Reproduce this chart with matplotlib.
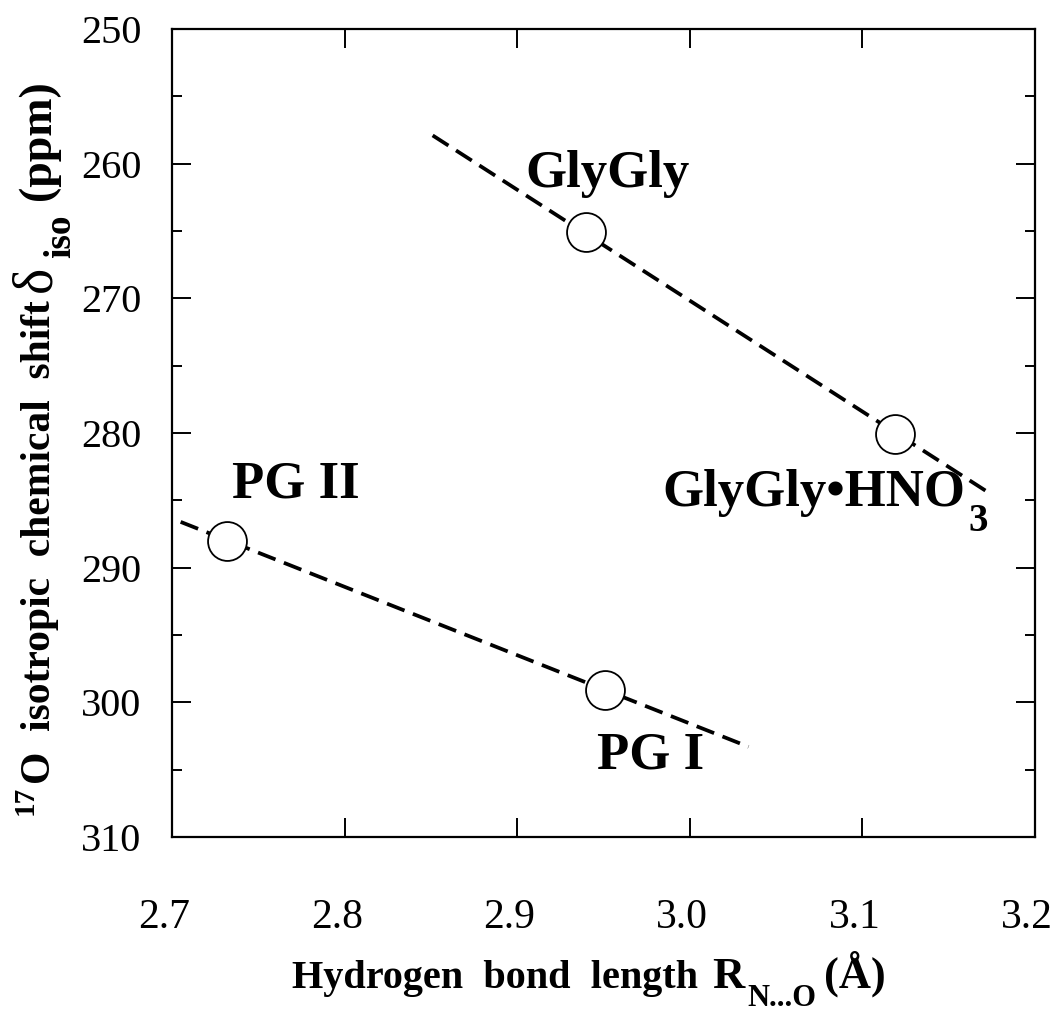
import matplotlib
matplotlib.use('Agg')
import matplotlib.pyplot as plt
from matplotlib.ticker import MultipleLocator
from matplotlib.transforms import IdentityTransform, ScaledTranslation

# measured points: hydrogen bond length (A) vs 17O isotropic shift (ppm)
names = ['GlyGly', 'GlyGly\u2022HNO', 'PG II', 'PG I']
name_sub = ['', '3', '', '']
r_no = [2.940, 3.119, 2.732, 2.951]
shift = [265.1, 280.1, 288.0, 299.1]

# label anchors (left, baseline)
label_x = [2.905, 2.984, 2.7347, 2.9465]
label_y = [261.7, 285.4, 284.8, 304.9]

# dashed guide lines, end points
line1_x = [2.851, 3.174]
line1_y = [257.9, 284.5]
line2_x = [2.705, 3.034]
line2_y = [286.6, 303.3]

xticks = [2.7, 2.8, 2.9, 3.0, 3.1, 3.2]
yticks = [250, 260, 270, 280, 290, 300, 310]

plt.rcParams['font.family'] = ['Liberation Serif', 'DejaVu Serif']

fig = plt.figure(figsize=(10.58, 10.19), dpi=100)
ax = fig.add_axes([0.1626, 0.1786, 0.8157, 0.7929])
rend = fig.canvas.get_renderer()
pix = IdentityTransform()

ax.set_xlim(2.7, 3.2)
ax.set_ylim(310, 250)
ax.set_xticks(xticks)
ax.set_xticklabels(['%.1f' % t for t in xticks])
ax.set_yticks(yticks)
ax.yaxis.set_minor_locator(MultipleLocator(5))

# draws pieces one after the other (pixel coords), sh moves sub/superscripts
def chain(x0, y0, pieces, vertical=False):
	pos = y0 if vertical else x0
	for s, size, weight, sh, gap in pieces:
		pos += gap
		if vertical:
			t = fig.text(x0 + sh, pos, s, rotation=90, rotation_mode='anchor', ha='left', va='baseline',
				fontsize=size, fontweight=weight, transform=pix)
		else:
			t = fig.text(pos, y0 + sh, s, ha='left', va='baseline', fontsize=size, fontweight=weight, transform=pix)
		bb = t.get_window_extent(rend)
		pos = bb.y1 if vertical else bb.x1

ax.plot(line1_x, line1_y, color='black', lw=2.7, dashes=(5, 2.4), zorder=2)
ax.plot(line2_x, line2_y, color='black', lw=2.7, dashes=(5, 2.4), zorder=2)
ax.plot(r_no, shift, 'o', ms=28, mfc='white', mec='black', mew=1.3, zorder=3)

for n, sub, x, y in zip(names, name_sub, label_x, label_y):
	t = ax.text(x, y, n, fontsize=38, fontweight='bold', ha='left', va='baseline')
	if sub:
		bb = t.get_window_extent(rend)
		px, py = ax.transData.transform((x, y))
		fig.text(bb.x1 + 3, py - 25, sub, fontsize=28, fontweight='bold', ha='left', va='baseline', transform=pix)

for s in ax.spines.values():
	s.set_linewidth(1.6)
ax.tick_params(axis='both', which='both', direction='in', top=True, right=True, width=1.4)
ax.tick_params(axis='x', which='major', length=14, pad=44, labelsize=30)
ax.tick_params(axis='y', which='major', length=14, pad=22, labelsize=29)
ax.tick_params(axis='y', which='minor', length=7)
# the x tick labels sit a little to the left of their ticks
for lab in ax.get_xticklabels():
	lab.set_transform(lab.get_transform() + ScaledTranslation(-8 / 100, 0, fig.dpi_scale_trans))

# x label: Hydrogen bond length R_N...O (A)
chain(292, 1019 - 988, [
	('Hydrogen  bond  length', 29, 'bold', 0, 0),
	('R', 32, 'bold', 0, 14),
	('N...O', 22, 'bold', -18, 3),
	('(\u00c5)', 32, 'bold', 0, 8),
])

# y label: 17O isotropic chemical shift delta_iso (ppm)
chain(50, 1019 - 815, [
	('17', 21, 'bold', -17, 0),
	('O  isotropic  chemical  shift', 30, 'bold', 0, 2),
	('\u03b4', 40, 'normal', 0, 8),
	('iso', 27, 'bold', 20, 8),
	('(ppm)', 33, 'bold', 0, 14),
], vertical=True)

plt.savefig('out.png', dpi=100)
